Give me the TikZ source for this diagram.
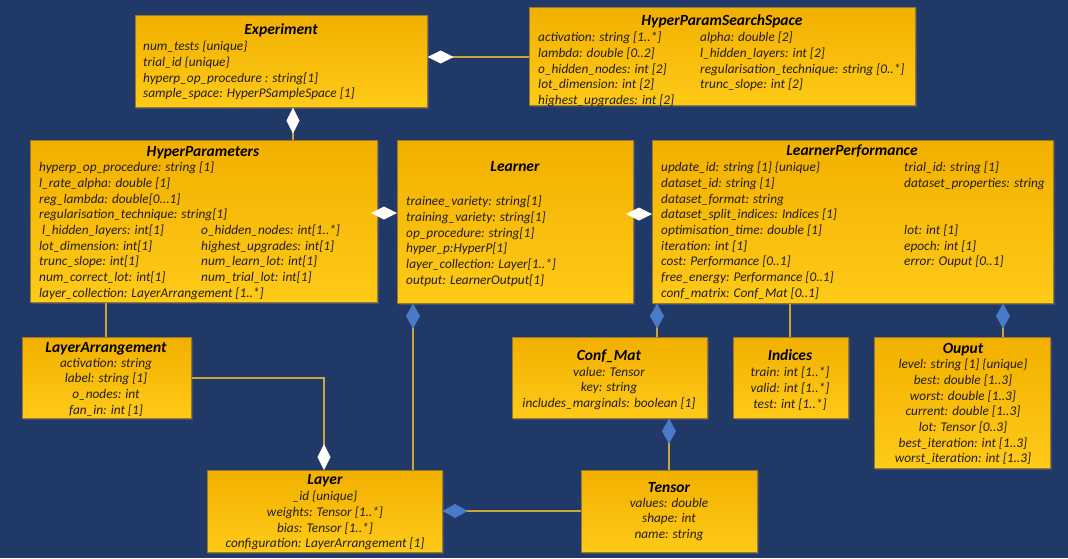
\documentclass[tikz,border=0pt]{standalone}
\usepackage{fontspec}
\setmainfont{Carlito}
\usetikzlibrary{arrows.meta,shadows}
\definecolor{bg}{RGB}{33,57,103}
\definecolor{boxtop}{RGB}{242,176,0}
\definecolor{boxbot}{RGB}{255,202,24}
\definecolor{boxline}{RGB}{150,120,40}
\definecolor{linecol}{RGB}{205,165,60}
\definecolor{bluedia}{RGB}{74,123,200}
\definecolor{txt}{RGB}{35,30,15}
\tikzset{
  box/.style={draw=boxline, line width=0.6pt, top color=boxtop, bottom color=boxbot,
    drop shadow={opacity=0.35, shadow xshift=2pt, shadow yshift=-2pt},
    inner sep=0pt, anchor=north west},
  ttl/.style={font=\fontsize{15.5}{17}\selectfont\bfseries\itshape, text=black, inner sep=0pt, anchor=base},
  attr/.style={font=\fontsize{13.3}{15.7}\selectfont\itshape, text=txt, inner sep=0pt, align=left, anchor=north west},
  attrc/.style={attr, align=center, anchor=north},
  conn/.style={draw=linecol, line width=1.1pt},
  wdia/.style={-{Diamond[length=26pt,width=13pt,color=white,fill=white]}},
  bdia/.style={-{Diamond[length=25pt,width=14pt,color=bluedia,fill=bluedia]}},
}
\begin{document}
\begin{tikzpicture}[x=1pt,y=-1pt]
\fill[bg] (0,0) rectangle (1068,558);
\useasboundingbox (0,0) rectangle (1068,558);

% boxes
\node[box, minimum width=292pt, minimum height=92pt] (exp) at (135,15) {};
\node[box, minimum width=386pt, minimum height=98pt] (hpss) at (529,7) {};
\node[box, minimum width=347pt, minimum height=162pt] (hp) at (30,140) {};
\node[box, minimum width=236pt, minimum height=163pt] (lrn) at (397,140) {};
\node[box, minimum width=401pt, minimum height=163pt] (lp) at (652,140) {};
\node[box, minimum width=169pt, minimum height=81pt] (la) at (22,337) {};
\node[box, minimum width=195pt, minimum height=81pt] (cm) at (512,337) {};
\node[box, minimum width=115pt, minimum height=81pt] (ind) at (733,337) {};
\node[box, minimum width=176pt, minimum height=131pt] (out) at (874,337) {};
\node[box, minimum width=235pt, minimum height=82pt] (layer) at (207,470) {};
\node[box, minimum width=176pt, minimum height=82pt] (tensor) at (581,470) {};

% Experiment
\node[ttl] (expT) at (281,34.5) {Experiment};
\node[attr] (expA) at (143,40.8) {num\_tests \{unique\}\\trial\_id \{unique\}\\hyperp\_op\_procedure : string[1]\\sample\_space: HyperPSampleSpace [1]};

% HyperParamSearchSpace
\node[ttl] (hpssT) at (722,25.5) {HyperParamSearchSpace};
\node[attr] (hpssA) at (538,31.8) {activation: string [1..*]\\lambda: double [0..2]\\o\_hidden\_nodes: int [2]\\lot\_dimension: int [2]\\highest\_upgrades: int [2]};
\node[attr] (hpssB) at (700,31.8) {alpha: double [2]\\l\_hidden\_layers: int [2]\\regularisation\_technique: string [0..*]\\trunc\_slope: int [2]};

% HyperParameters
\node[ttl] (hpT) at (203,156.5) {HyperParameters};
\node[attr] (hpA) at (39,161.8) {hyperp\_op\_procedure: string [1]\\l\_rate\_alpha: double [1]\\reg\_lambda: double[0...1]\\regularisation\_technique: string[1]\\\hspace{3pt}l\_hidden\_layers: int[1]\\lot\_dimension: int[1]\\trunc\_slope: int[1]\\num\_correct\_lot: int[1]\\layer\_collection: LayerArrangement [1..*]};
\node[attr] (hpB) at (201,224.6) {o\_hidden\_nodes: int[1..*]\\highest\_upgrades: int[1]\\num\_learn\_lot: int[1]\\num\_trial\_lot: int[1]};

% Learner
\node[ttl] (lrnT) at (515,171.5) {Learner};
\node[attr] (lrnA) at (406,195.8) {trainee\_variety: string[1]\\training\_variety: string[1]\\op\_procedure: string[1]\\hyper\_p:HyperP[1]\\layer\_collection: Layer[1..*]\\output: LearnerOutput[1]};

% LearnerPerformance
\node[ttl] (lpT) at (852,155.5) {LearnerPerformance};
\node[attr] (lpA) at (661,161.8) {update\_id: string [1] \{unique\}\\dataset\_id: string [1]\\dataset\_format: string\\dataset\_split\_indices: Indices [1]\\optimisation\_time: double [1]\\iteration: int [1]\\cost: Performance [0..1]\\free\_energy: Performance [0..1]\\conf\_matrix: Conf\_Mat [0..1]};
\node[attr] (lpB) at (904,161.8) {trial\_id: string [1]\\dataset\_properties: string};
\node[attr] (lpC) at (904,224.6) {lot: int [1]\\epoch: int [1]\\error: Ouput [0..1]};

% LayerArrangement
\node[ttl] (laT) at (106,352.5) {LayerArrangement};
\node[attrc] (laA) at (106,357.8) {activation: string\\label: string [1]\\o\_nodes: int\\fan\_in: int [1]};

% Conf_Mat
\node[ttl] (cmT) at (609,360.5) {Conf\_Mat};
\node[attrc] (cmA) at (609,366.8) {value: Tensor\\key: string\\includes\_marginals: boolean [1]};

% Indices
\node[ttl] (indT) at (790,360.5) {Indices};
\node[attrc] (indA) at (790,366.8) {train: int [1..*]\\valid: int [1..*]\\test: int [1..*]};

% Ouput
\node[ttl] (outT) at (963,353.5) {Ouput};
\node[attrc] (outA) at (963,358.8) {level: string [1] \{unique\}\\best: double [1..3]\\worst: double [1..3]\\current: double [1..3]\\lot: Tensor [0..3]\\best\_iteration: int [1..3]\\worst\_iteration: int [1..3]};

% Layer
\node[ttl] (layerT) at (325,484.5) {Layer};
\node[attrc] (layerA) at (325,490.8) {\_id \{unique\}\\weights: Tensor [1..*]\\bias: Tensor [1..*]\\configuration: LayerArrangement [1]};

% Tensor
\node[ttl] (tensorT) at (669,492.5) {Tensor};
\node[attrc] (tensorA) at (669,497.8) {values: double\\shape: int\\name: string};

% connectors
\draw[conn, wdia] (hpss.west |- 0,57) -- (exp.east |- 0,57);
\draw[conn, wdia] (hp.north -| 293,0) -- (exp.south -| 293,0);
\draw[conn, wdia] (hp.east |- 0,213) -- (lrn.west |- 0,213);
\draw[conn, wdia] (lrn.east |- 0,214) -- (lp.west |- 0,214);
\draw[conn] (hp.south -| 106,0) -- (la.north -| 106,0);
\draw[conn, wdia] (la.east |- 0,378) -| (layer.north -| 324,0);
\draw[conn, bdia] (layer.north -| 413,0) -- (lrn.south -| 413,0);
\draw[conn, bdia] (cm.north -| 657,0) -- (lp.south -| 657,0);
\draw[conn] (lp.south -| 790,0) -- (ind.north -| 790,0);
\draw[conn, bdia] (out.north -| 1003,0) -- (lp.south -| 1003,0);
\draw[conn, bdia] (tensor.north -| 669,0) -- (cm.south -| 669,0);
\draw[conn, bdia] (tensor.west |- 0,511) -- (layer.east |- 0,511);
\end{tikzpicture}
\end{document}
